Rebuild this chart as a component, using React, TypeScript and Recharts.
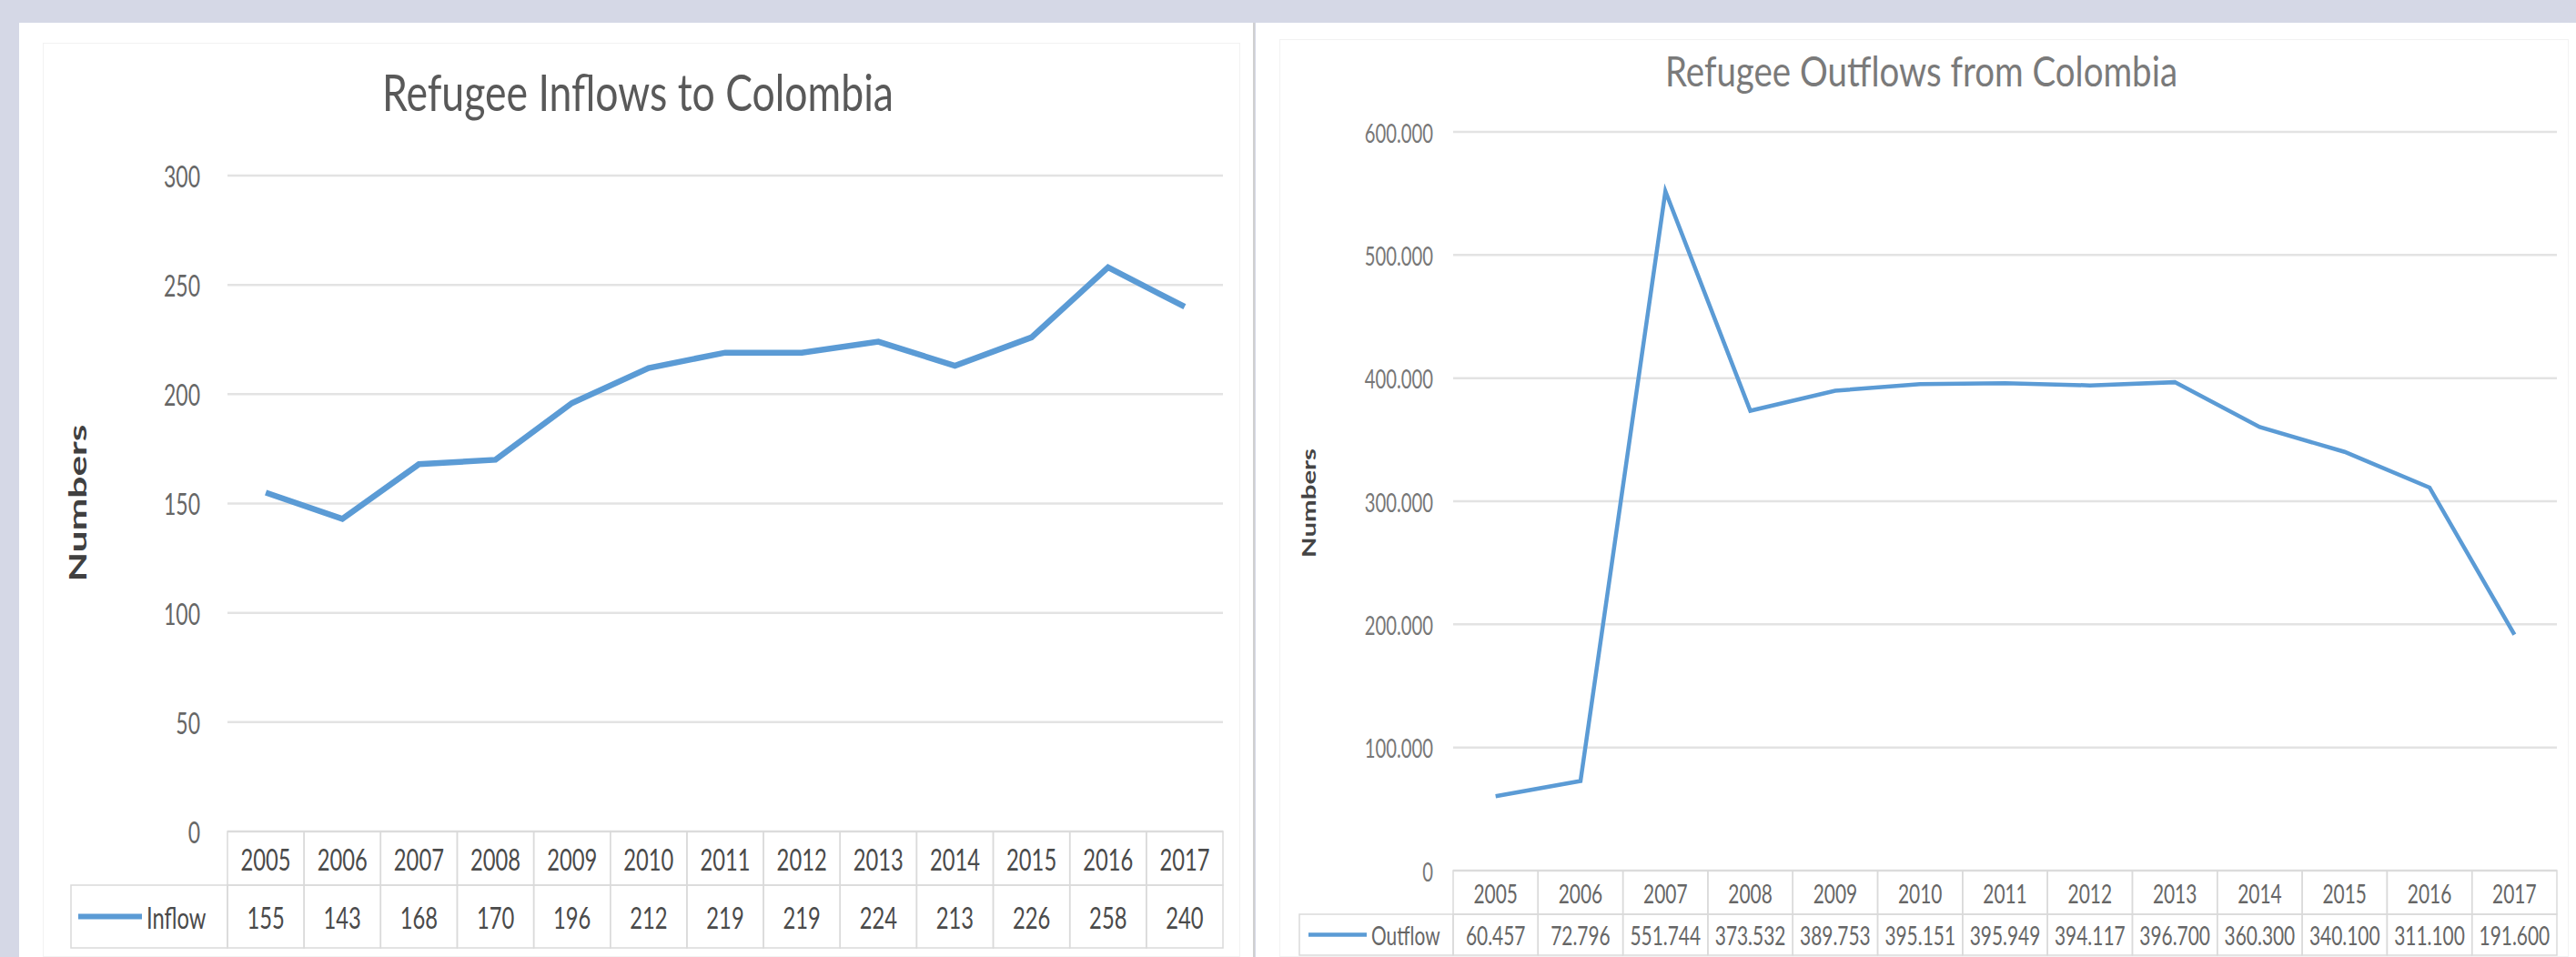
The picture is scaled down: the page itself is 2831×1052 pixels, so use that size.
import React from 'react';
import { LineChart, Line, XAxis, YAxis, CartesianGrid } from 'recharts';

const years = ['2005', '2006', '2007', '2008', '2009', '2010', '2011', '2012', '2013', '2014', '2015', '2016', '2017'];
const inflow = [155, 143, 168, 170, 196, 212, 219, 219, 224, 213, 226, 258, 240];
const outflow = [60457, 72796, 551744, 373532, 389753, 395151, 395949, 394117, 396700, 360300, 340100, 311100, 191600];
const inflowTicks = [0, 50, 100, 150, 200, 250, 300];
const outflowTicks = [0, 100000, 200000, 300000, 400000, 500000, 600000];

const BLUE = '#5b9bd5';
const FONT = 'Lato, "Liberation Sans", sans-serif';

const data = years.map((year, i) => ({ year, inflow: inflow[i], outflow: outflow[i] }));

const dotted = (v: number) => (v === 0 ? '0' : v.toLocaleString('de-DE'));

// y tick, a bit stretched vertically like the source screenshot
const makeYTick = (fontSize: number, fill: string, fmt: (v: number) => string) => (props: any) => {
  const { x, y, payload } = props;
  return (
    <text
      transform={`translate(${x},${y}) scale(0.92,1.35)`}
      textAnchor="end"
      dominantBaseline="central"
      fontSize={fontSize}
      fontFamily={FONT}
      fill={fill}
    >
      {fmt(payload.value)}
    </text>
  );
};

interface TableCfg {
  colW: number;
  row1: number;
  row2: number;
  legendW: number;
  lineFrom: number;
  lineTo: number;
  lineW: number;
  name: string;
  values: number[];
  fmt: (v: number) => string;
  fontSize: number;
  fill: string;
}

// the data table under the x axis, one column per category tick
const makeTableTick = (c: TableCfg) => (props: any) => {
  const { x, y, payload, index } = props;
  const i = years.indexOf(payload.value);
  const left = x - c.colW / 2;
  const border = '#dadada';
  const txt = (tx: number, ty: number, s: string, anchor: string = 'middle') => (
    <text
      transform={`translate(${tx},${ty}) scale(0.95,1.35)`}
      textAnchor={anchor}
      dominantBaseline="central"
      fontSize={c.fontSize}
      fontFamily={FONT}
      fill={c.fill}
    >
      {s}
    </text>
  );
  return (
    <g>
      <rect x={left} y={y} width={c.colW} height={c.row1} fill="none" stroke={border} strokeWidth={1.5} />
      <rect x={left} y={y + c.row1} width={c.colW} height={c.row2} fill="none" stroke={border} strokeWidth={1.5} />
      {txt(x, y + c.row1 / 2, payload.value)}
      {txt(x, y + c.row1 + c.row2 / 2, c.fmt(c.values[i]))}
      {index === 0 && (
        <g>
          <rect x={left - c.legendW} y={y + c.row1} width={c.legendW} height={c.row2} fill="none" stroke={border} strokeWidth={1.5} />
          <line
            x1={left - c.legendW + c.lineFrom}
            x2={left - c.legendW + c.lineTo}
            y1={y + c.row1 + c.row2 / 2}
            y2={y + c.row1 + c.row2 / 2}
            stroke={BLUE}
            strokeWidth={c.lineW}
          />
          {txt(left - c.legendW + c.lineTo + 5, y + c.row1 + c.row2 / 2, c.name, 'start')}
        </g>
      )}
    </g>
  );
};

const leftColW = 1094 / 13;
const rightColW = 1213 / 13;

export default function App() {
  return (
    <div style={{ position: 'absolute', left: 0, top: 0, width: 2831, height: 1052, background: '#d5d8e6', overflow: 'hidden' }}>
      {/* left panel */}
      <div style={{ position: 'absolute', left: 21, top: 25, width: 1356, height: 1027, background: '#fff', borderRight: '2px solid #d0d0d0' }}>
        <div style={{ position: 'absolute', left: 26, top: 22, right: 14, bottom: 0, border: '1px solid #f2f2f2' }} />
        <LineChart width={1356} height={1027} data={data} margin={{ top: 168, right: 33, left: 109, bottom: 8 }}>
          <CartesianGrid vertical={false} stroke="#e3e3e3" strokeWidth={2.5} />
          <XAxis
            dataKey="year"
            height={130}
            axisLine={false}
            tickLine={false}
            tickSize={0}
            tickMargin={0}
            interval={0}
            padding={{ left: leftColW / 2, right: leftColW / 2 }}
            tick={makeTableTick({
              colW: leftColW, row1: 59, row2: 69, legendW: 172, lineFrom: 8, lineTo: 78, lineW: 6,
              name: 'Inflow', values: inflow, fmt: (v) => String(v), fontSize: 25, fill: '#4a4a4a',
            })}
          />
          <YAxis
            width={120}
            domain={[0, 300]}
            ticks={inflowTicks}
            axisLine={false}
            tickLine={false}
            tickSize={0}
            tickMargin={30}
            tick={makeYTick(25, '#666', (v) => String(v))}
          />
          <Line type="linear" dataKey="inflow" stroke={BLUE} strokeWidth={6.5} dot={false} isAnimationActive={false} />
        </LineChart>
      </div>

      {/* right panel */}
      <div style={{ position: 'absolute', left: 1380, top: 25, width: 1451, height: 1027, background: '#fff' }}>
        <div style={{ position: 'absolute', left: 26, top: 18, right: 8, bottom: 0, border: '1px solid #f2f2f2' }} />
        <LineChart width={1451} height={1027} data={data} margin={{ top: 120, right: 21, left: 97, bottom: 5 }}>
          <CartesianGrid vertical={false} stroke="#e3e3e3" strokeWidth={2.5} />
          <XAxis
            dataKey="year"
            height={90}
            axisLine={false}
            tickLine={false}
            tickSize={0}
            tickMargin={0}
            interval={0}
            padding={{ left: rightColW / 2, right: rightColW / 2 }}
            tick={makeTableTick({
              colW: rightColW, row1: 48, row2: 45, legendW: 169, lineFrom: 10, lineTo: 74, lineW: 4.5,
              name: 'Outflow', values: outflow, fmt: dotted, fontSize: 22, fill: '#666',
            })}
          />
          <YAxis
            width={120}
            domain={[0, 600000]}
            ticks={outflowTicks}
            axisLine={false}
            tickLine={false}
            tickSize={0}
            tickMargin={22}
            tick={makeYTick(22, '#777', dotted)}
          />
          <Line type="linear" dataKey="outflow" stroke={BLUE} strokeWidth={4.5} dot={false} isAnimationActive={false} />
        </LineChart>
      </div>

      {/* titles and axis names */}
      <svg width={2831} height={1052} style={{ position: 'absolute', left: 0, top: 0, pointerEvents: 'none' }}>
        <text x={420} y={122} textLength={562} lengthAdjust="spacingAndGlyphs" fontSize={57} fontFamily={FONT} fill="#595959">
          Refugee Inflows to Colombia
        </text>
        <text x={1830} y={95} textLength={563} lengthAdjust="spacingAndGlyphs" fontSize={47} fontFamily={FONT} fill="#7a7a7a">
          Refugee Outflows from Colombia
        </text>
        <text
          transform="translate(85,553) rotate(-90)"
          textAnchor="middle"
          dominantBaseline="central"
          textLength={173}
          lengthAdjust="spacingAndGlyphs"
          fontSize={26}
          fontWeight="bold"
          fontFamily={FONT}
          fill="#404040"
        >
          Numbers
        </text>
        <text
          transform="translate(1438,553) rotate(-90)"
          textAnchor="middle"
          dominantBaseline="central"
          textLength={120}
          lengthAdjust="spacingAndGlyphs"
          fontSize={20}
          fontWeight="bold"
          fontFamily={FONT}
          fill="#444"
        >
          Numbers
        </text>
      </svg>
    </div>
  );
}
